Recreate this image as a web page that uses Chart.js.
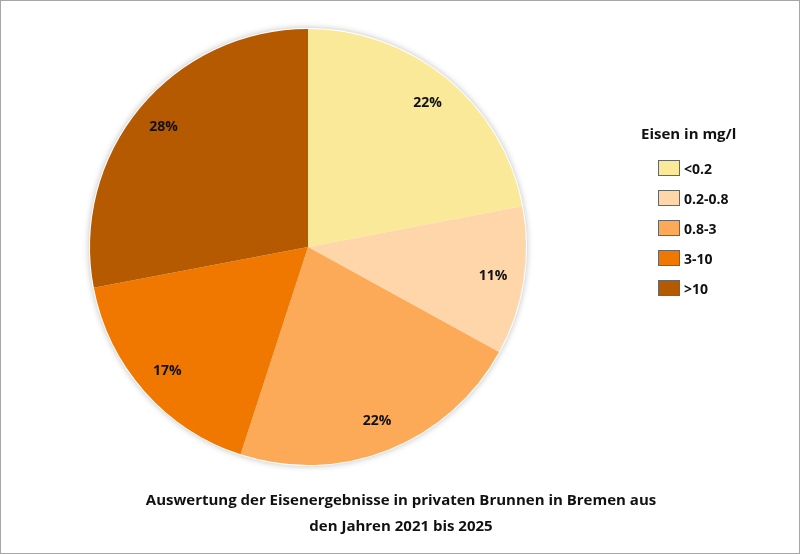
<!DOCTYPE html>
<html><head><meta charset="utf-8">
<script src="https://cdn.jsdelivr.net/npm/chart.js@4/dist/chart.umd.min.js"></script>
<style>
body{margin:0;background:#fff;font-family:"Open Sans",sans-serif}
#wrap{position:relative;width:798px;height:552px;border:1px solid #a6a6a6;background:#fff}
canvas{position:absolute;left:0;top:0}
#legend{position:absolute;left:640px;top:122px;font-weight:bold;font-size:14px;color:#111}
#legend .t{font-size:15px;margin-bottom:10px}
#legend .r{display:flex;align-items:center;height:30px;margin-left:17px}
#legend .b{width:22px;height:16px;border:1px solid #666;margin-right:4px;box-sizing:border-box}
#title{position:absolute;left:0;width:800px;top:485px;text-align:center;font-weight:bold;font-size:15px;line-height:26px;color:#111}
</style></head><body>
<div id="wrap"><canvas id="c" width="798" height="552"></canvas>
<div id="legend"></div>
<div id="title">Auswertung der Eisenergebnisse in privaten Brunnen in Bremen aus<br>den Jahren 2021 bis 2025</div></div>
<script>
const categories=["<0.2","0.2-0.8","0.8-3","3-10",">10"];
const values=[22,11,22,17,28];
const colors=["#FAE998","#FED6AA","#FCAA58","#F07800","#B55A00"];
const legendTitle="Eisen in mg/l";
const lg=document.getElementById('legend');
lg.innerHTML='<div class="t">'+legendTitle+'</div>'+categories.map((c,i)=>'<div class="r"><div class="b" style="background:'+colors[i]+'"></div>'+c.replace('<','&lt;').replace('>','&gt;')+'</div>').join('');
const labelPlugin={id:'lbl',afterDatasetsDraw(ch){const ctx=ch.ctx;const meta=ch.getDatasetMeta(0);ctx.save();ctx.font='bold 14px "Open Sans"';ctx.fillStyle='#111';ctx.textAlign='center';ctx.textBaseline='middle';
meta.data.forEach((a,i)=>{const m=(a.startAngle+a.endAngle)/2;const r=a.outerRadius*0.86;ctx.fillText(values[i]+'%',a.x+Math.cos(m)*r,a.y+Math.sin(m)*r);});ctx.restore();}};
const shadow={id:'sh',beforeDatasetsDraw(ch){const a=ch.getDatasetMeta(0).data[0];const ctx=ch.ctx;ctx.save();ctx.beginPath();ctx.arc(a.x,a.y,a.outerRadius+1,0,Math.PI*2);ctx.shadowColor='rgba(0,0,0,0.25)';ctx.shadowBlur=6;ctx.fillStyle='#fff';ctx.fill();ctx.restore();}};
new Chart(document.getElementById('c'),{type:'pie',
data:{labels:categories,datasets:[{data:values,backgroundColor:colors,borderWidth:0}]},
options:{responsive:false,animation:false,layout:{padding:{left:89,right:273,top:27,bottom:87}},
plugins:{legend:{display:false},tooltip:{enabled:false}}},plugins:[shadow,labelPlugin]});
</script></body></html>
